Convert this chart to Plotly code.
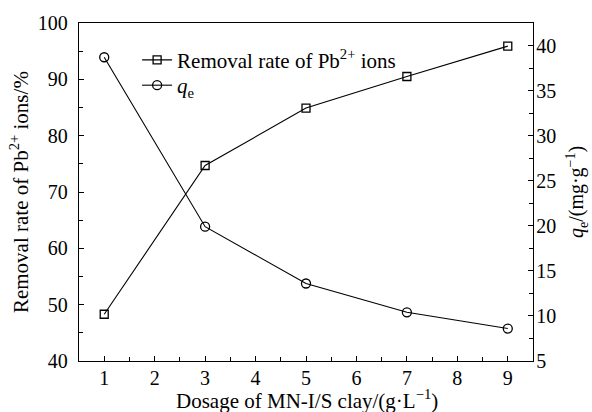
import plotly.graph_objects as go

dosage = [1, 3, 5, 7, 9]
removal_rate = [48.3, 74.7, 84.9, 90.5, 95.9]
qe = [38.7, 19.9, 13.6, 10.4, 8.6]

x_title = "Dosage of MN-I/S clay/(g·L<sup>−1</sup>)"
y_title = "Removal rate of Pb<sup>2+</sup> ions/%"
y2_title = "<i>q</i><sub>e</sub>/(mg·g<sup>−1</sup>)"

font_family = "Liberation Serif, Times New Roman, serif"

fig = go.Figure()
fig.add_trace(go.Scatter(
    x=dosage, y=removal_rate, mode="lines+markers",
    name="Removal rate of Pb<sup>2+</sup> ions", legend="legend",
    line=dict(color="black", width=1.1),
    marker=dict(symbol="square-open", size=8, color="black", line=dict(width=1.3)),
))
fig.add_trace(go.Scatter(
    x=dosage, y=qe, mode="lines+markers", yaxis="y2",
    name="<i>q</i><sub>e</sub>", legend="legend2",
    line=dict(color="black", width=1.1),
    marker=dict(symbol="circle-open", size=9, color="black", line=dict(width=1.3)),
))

axis_common = dict(
    showgrid=False, zeroline=False, showline=True, linecolor="black", linewidth=1.3,
    ticks="inside", ticklen=5, tickwidth=1, tickcolor="black", automargin=False,
    tickfont=dict(family=font_family, size=20, color="black"),
)
minor_common = dict(ticks="inside", ticklen=4, tickwidth=1, tickcolor="black")
title_font = dict(size=21, family=font_family, color="black")

leg_common = dict(xanchor="left", yanchor="middle", bgcolor="rgba(0,0,0,0)",
                  font=dict(size=21, family=font_family, color="black"), itemwidth=30)

fig.update_layout(
    width=592, height=412,
    margin=dict(l=79, r=59, t=23, b=51, autoexpand=False),
    paper_bgcolor="white", plot_bgcolor="white",
    font=dict(family=font_family, size=20, color="black"),
    showlegend=True,
    legend=dict(x=0.128, y=0.89, **leg_common),
    legend2=dict(x=0.128, y=0.815, **leg_common),
    xaxis=dict(**axis_common, range=[0.5, 9.5], tickmode="linear", tick0=1, dtick=1,
               mirror=True, ticklabelstandoff=-1,
               minor=dict(**minor_common, dtick=0.5, tick0=0.5)),
    yaxis=dict(**axis_common, range=[40, 100], tickmode="linear", tick0=40, dtick=10,
               ticklabelstandoff=6,
               minor=dict(**minor_common, dtick=5)),
    yaxis2=dict(**axis_common, range=[5, 42.5], overlaying="y", side="right",
                tickmode="linear", tick0=5, dtick=5, ticklabelstandoff=-2,
                minor=dict(**minor_common, dtick=2.5, tick0=5)),
    annotations=[
        dict(text=x_title, xref="paper", yref="paper", x=0.502, y=-0.115,
             xanchor="center", yanchor="middle", showarrow=False, font=title_font),
        dict(text=y_title, xref="paper", yref="paper", x=-0.132, y=0.5,
             xanchor="center", yanchor="middle", textangle=-90, showarrow=False,
             font=title_font),
        dict(text=y2_title, xref="paper", yref="paper", x=1.097, y=0.5,
             xanchor="center", yanchor="middle", textangle=-90, showarrow=False,
             font=dict(size=20, family=font_family, color="black")),
    ],
)

fig.write_html("out.html", config={"displayModeBar": False},
               post_script="document.body.style.margin='0px';document.body.style.overflow='hidden';")
